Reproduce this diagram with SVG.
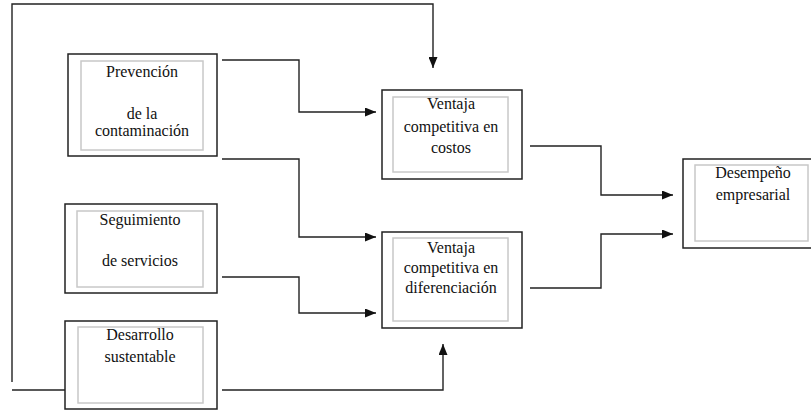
<svg xmlns="http://www.w3.org/2000/svg" width="811" height="410" viewBox="0 0 811 410">
<defs>
<marker id="ah" viewBox="0 0 11 9" refX="11" refY="4.5" markerWidth="11" markerHeight="9" markerUnits="userSpaceOnUse" orient="auto">
<path d="M0,0 L11,4.5 L0,9 Z" fill="#111"/>
</marker>
</defs>
<style>
.outer{fill:#fff;stroke:#222;stroke-width:1.5}
.inner{fill:none;stroke:#c8c8c8;stroke-width:1.5}
.t{font-family:"Liberation Serif","Times New Roman",serif;font-size:16px;fill:#111;text-anchor:middle}
.c{fill:none;stroke:#222;stroke-width:1.4}
.ca{fill:none;stroke:#222;stroke-width:1.4;marker-end:url(#ah)}
</style>
<rect width="811" height="410" fill="#fff"/>
<g id="connectors">
<polyline class="ca" points="12,382 12,4 433,4 433,68"/>
<polyline class="c" points="12,390 65,390"/>
<polyline class="ca" points="222,60 299,60 299,112 376,112"/>
<polyline class="ca" points="222,159 299,159 299,237 376,237"/>
<polyline class="ca" points="222,277 299,277 299,313 376,313"/>
<polyline class="ca" points="222,390 443,390 443,344"/>
<polyline class="ca" points="530,146 601,146 601,195 673,195"/>
<polyline class="ca" points="530,288 601,288 601,234 673,234"/>
</g>
<g id="prevencion">
<rect class="outer" x="68" y="54" width="149" height="102"/>
<rect class="inner" x="81" y="61" width="122" height="89"/>
<text class="t" x="142" y="77">Prevención</text>
<text class="t" x="142" y="119">de la</text>
<text class="t" x="142" y="136">contaminación</text>
</g>
<g id="seguimiento">
<rect class="outer" x="65" y="204" width="152" height="89"/>
<rect class="inner" x="77" y="211" width="126" height="76"/>
<text class="t" x="140" y="225">Seguimiento</text>
<text class="t" x="140" y="266">de servicios</text>
</g>
<g id="desarrollo">
<rect class="outer" x="65" y="321" width="152" height="88"/>
<rect class="inner" x="78" y="327" width="125" height="76"/>
<text class="t" x="140" y="340">Desarrollo</text>
<text class="t" x="140" y="362">sustentable</text>
</g>
<g id="costos">
<rect class="outer" x="382" y="90" width="140" height="89"/>
<rect class="inner" x="393" y="97" width="115" height="75"/>
<text class="t" x="451" y="109">Ventaja</text>
<text class="t" x="451" y="132">competitiva en</text>
<text class="t" x="451" y="153">costos</text>
</g>
<g id="diferenciacion">
<rect class="outer" x="382" y="232" width="140" height="96"/>
<rect class="inner" x="393" y="238" width="115" height="83"/>
<text class="t" x="451" y="253">Ventaja</text>
<text class="t" x="451" y="273">competitiva en</text>
<text class="t" x="451" y="293">diferenciación</text>
</g>
<g id="desempeno">
<rect class="outer" x="683" y="159" width="130" height="89"/>
<rect class="inner" x="695" y="165" width="113" height="76"/>
<text class="t" x="753" y="178">Desempeño</text>
<text class="t" x="753" y="200">empresarial</text>
</g>
</svg>
